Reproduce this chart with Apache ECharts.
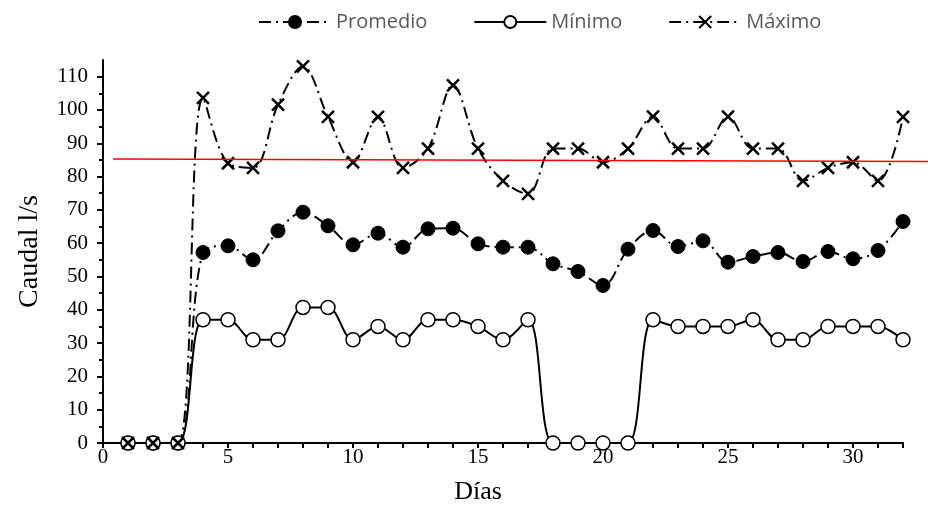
<!DOCTYPE html>
<html>
<head>
<meta charset="utf-8">
<script src="https://cdn.jsdelivr.net/npm/echarts@6/dist/echarts.min.js"></script>
<style>html,body{margin:0;padding:0;background:#fff;}#c{width:928px;height:508px;}</style>
</head>
<body>
<div id="c"></div>
<script>
const days = [1,2,3,4,5,6,7,8,9,10,11,12,13,14,15,16,17,18,19,20,21,22,23,24,25,26,27,28,29,30,31,32];
const promedio = [0,0,0,57.2,59.2,55,63.7,69.3,65.2,59.5,63,58.8,64.3,64.5,59.8,58.8,58.8,53.8,51.5,47.3,58.2,63.8,59,60.7,54.3,56,57.2,54.5,57.5,55.3,57.8,66.5];
const minimo = [0,0,0,37,37,31,31,40.7,40.7,31,35,31,37,37,35,31,37,0,0,0,0,37,35,35,35,37,31,31,35,35,35,31];
const maximo = [0,0,0,103.6,84,82.6,101.6,113.1,97.9,84.3,97.9,82.6,88.4,107.4,88.4,78.7,74.8,88.4,88.4,84.3,88.4,98,88.4,88.4,98,88.4,88.4,78.7,82.6,84.3,78.7,97.9];
const refLineX = [0.4, 33];
const refLineY = [85.3, 84.55];
const yMajorTicks = [0,10,20,30,40,50,60,70,80,90,100,110];
const yMinorTicks = [5,15,25,35,45,55,65,75,85,95,105];
const xLabels = [0,5,10,15,20,25,30];

const pair = (arr) => days.map((d,i)=>[d, arr[i]]);
const serif = '"Liberation Serif","Times New Roman",serif';
const chart = echarts.init(document.getElementById('c'), null, {renderer:'canvas'});
const xMark = 'path://M0,0L10,10M10,0L0,10';

chart.setOption({
  animation: false,
  backgroundColor: '#fff',
  grid: {left: 103, right: 25, top: 60, bottom: 65, containLabel: false, outerBoundsMode: 'none'},
  legend: {
    data: ['Promedio','Mínimo','Máximo'],
    left: 253, top: 7,
    itemWidth: 72, itemHeight: 15, itemGap: 46,
    textStyle: {fontFamily: '"Open Sans", sans-serif', fontSize: 20, color: '#595959'}
  },
  xAxis: {
    type: 'value', min: 0, max: 32, interval: 1,
    name: 'Días', nameLocation: 'middle', nameGap: 36,
    nameTextStyle: {fontFamily: serif, fontSize: 26, color: '#000', padding: [0, 50, 0, 0]},
    axisLine: {show: true, lineStyle: {color: '#000', width: 2}},
    axisTick: {show: true, length: 5, lineStyle: {color: '#000', width: 2}},
    axisLabel: {customValues: xLabels, fontFamily: serif, fontSize: 21, color: '#000', margin: 4},
    splitLine: {show: false}
  },
  yAxis: [{
    type: 'value', min: 0, max: 115, interval: 10,
    name: 'Caudal l/s', nameLocation: 'middle', nameGap: 59, nameRotate: 90,
    nameTextStyle: {fontFamily: serif, fontSize: 28, color: '#000'},
    axisLine: {show: true, lineStyle: {color: '#000', width: 2}},
    axisTick: {show: true, customValues: yMajorTicks, length: 6, lineStyle: {color: '#000', width: 2}},
    axisLabel: {customValues: yMajorTicks, fontFamily: serif, fontSize: 21, color: '#000', margin: 15},
    splitLine: {show: false}
  },{
    type: 'value', min: 0, max: 115, interval: 5, position: 'left',
    axisLine: {show: false},
    axisTick: {show: true, customValues: yMinorTicks, length: 4, lineStyle: {color: '#000', width: 2}},
    axisLabel: {show: false},
    splitLine: {show: false}
  }],
  series: [
    {
      name: 'Promedio', type: 'line', data: pair(promedio), smooth: 0.35,
      symbol: 'circle', symbolSize: 14,
      itemStyle: {color: '#000', borderColor: '#000', borderWidth: 1},
      lineStyle: {color: '#000', width: 2, type: [12,5,2,5]}
    },
    {
      name: 'Mínimo', type: 'line', data: pair(minimo), smooth: 0.35,
      symbol: 'circle', symbolSize: 14,
      itemStyle: {color: '#fff', borderColor: '#000', borderWidth: 1.5},
      lineStyle: {color: '#000', width: 2, type: 'solid'}
    },
    {
      name: 'Máximo', type: 'line', data: pair(maximo), smooth: 0.35,
      symbol: xMark, symbolSize: 12,
      itemStyle: {color: '#000', borderColor: '#000', borderWidth: 2.5},
      lineStyle: {color: '#000', width: 2, type: [12,5,2,5]}
    }
  ]
});

// Reference threshold line, positioned through the chart's own scales
const p0 = chart.convertToPixel({gridIndex: 0}, [refLineX[0], refLineY[0]]);
const p1 = chart.convertToPixel({gridIndex: 0}, [refLineX[1], refLineY[1]]);
chart.setOption({
  graphic: [{
    type: 'line', z: 100, silent: true,
    shape: {x1: p0[0], y1: p0[1], x2: p1[0], y2: p1[1]},
    style: {stroke: '#ff0000', lineWidth: 1.5}
  }]
});
</script>
</body>
</html>
